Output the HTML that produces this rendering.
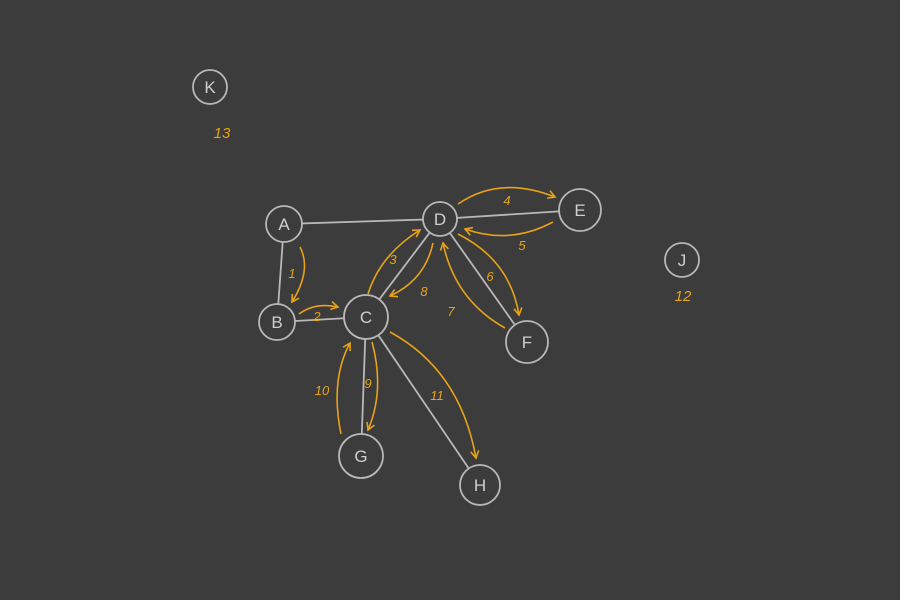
<!DOCTYPE html>
<html><head><meta charset="utf-8"><style>
html,body{margin:0;padding:0;background:#3c3c3c;}
svg{display:block;}
text{font-family:"Liberation Sans",sans-serif;}
</style></head><body>
<svg id="g" width="900" height="600" viewBox="0 0 900 600">
<rect width="900" height="600" fill="#3c3c3c"/>
<defs><marker id="ah" markerWidth="10" markerHeight="10" refX="8" refY="5" orient="auto" markerUnits="userSpaceOnUse"><path d="M1,1 L8,5 L1,9" fill="none" stroke="#e8a317" stroke-width="1.6"/></marker></defs>
</svg>
<script>
const nodeNames=["K","A","D","E","J","B","C","F","G","H"];
const nodeX=[210,284,440,580,682,277,366,527,361,480];
const nodeY=[87,224,219,210,260,322,317,342,456,485];
const nodeR=[17,18,17,21,17,18,22,21,22,20];
const edges=[["A","D"],["A","B"],["B","C"],["C","D"],["D","E"],["D","F"],["C","G"],["C","H"]];
const steps=["1","2","3","4","5","6","7","8","9","10","11"];
const stepPaths=[[300,247,312,270,292,302],[299,314,315,302,338,307],[368,294,380,255,420,230],[458,204,500,175,555,197],[553,222,510,245,465,229],[458,234,510,260,519,315],[505,328,455,300,443,243],[433,243,425,280,390,296],[372,342,385,390,368,430],[341,434,330,380,350,343],[390,332,460,370,476,458]];
const stepLabelX=[292,317,393,507,522,490,451,424,368,322,437];
const stepLabelY=[273,316,259,200,245,276,311,291,383,390,395];
const isoNames=["13","12"];
const isoX=[222,683];
const isoY=[132,295];
const svg=document.getElementById('g');
const NS="http://www.w3.org/2000/svg";
function mk(t,a){const e=document.createElementNS(NS,t);for(const k in a)e.setAttribute(k,a[k]);svg.appendChild(e);return e;}
function idx(n){return nodeNames.indexOf(n);}
edges.forEach(([a,b])=>{const i=idx(a),j=idx(b);const dx=nodeX[j]-nodeX[i],dy=nodeY[j]-nodeY[i],d=Math.hypot(dx,dy);
const e=mk('line',{x1:nodeX[i]+dx/d*nodeR[i],y1:nodeY[i]+dy/d*nodeR[i],x2:nodeX[j]-dx/d*nodeR[j],y2:nodeY[j]-dy/d*nodeR[j],stroke:'#b8b8b8','stroke-width':1.8});

});
nodeNames.forEach((n,i)=>{const c=mk('circle',{cx:nodeX[i],cy:nodeY[i],r:nodeR[i],fill:'none',stroke:'#b8b8b8','stroke-width':1.8});


const t=mk('text',{x:nodeX[i],y:nodeY[i]+6,'text-anchor':'middle','font-size':17,fill:'#cfcfcf'});t.textContent=n;

});
stepPaths.forEach((p,i)=>{const e=mk('path',{d:`M${p[0]},${p[1]} Q${p[2]},${p[3]} ${p[4]},${p[5]}`,fill:'none',stroke:'#e8a317','stroke-width':1.6,'marker-end':'url(#ah)'});


const t=mk('text',{x:stepLabelX[i],y:stepLabelY[i]+5,'text-anchor':'middle','font-size':13,'font-style':'italic',fill:'#e8a317'});t.textContent=steps[i];

});
isoNames.forEach((s,i)=>{const t=mk('text',{x:isoX[i],y:isoY[i]+6,'text-anchor':'middle','font-size':15,'font-style':'italic',fill:'#e8a317'});t.textContent=s;

});
</script>
</body></html>
